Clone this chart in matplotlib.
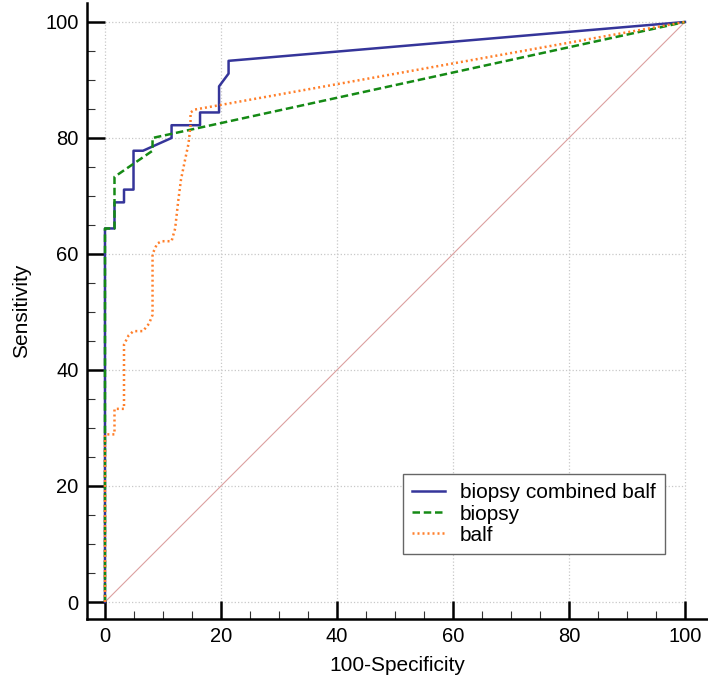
import matplotlib
matplotlib.use('Agg')
import matplotlib.pyplot as plt
from matplotlib.ticker import MultipleLocator

plt.rcParams['font.family'] = ['Liberation Sans', 'DejaVu Sans']

# ROC points (100-Specificity, Sensitivity)
combined_x = [0, 0, 1.64, 1.64, 3.28, 3.28, 4.92, 4.92, 6.56, 11.48, 11.48,
              16.39, 16.39, 19.67, 19.67, 21.31, 21.31, 100]
combined_y = [0, 64.4, 64.4, 68.9, 68.9, 71.1, 71.1, 77.8, 77.8, 80.0, 82.2,
              82.2, 84.4, 84.4, 88.9, 91.1, 93.3, 100]

biopsy_x = [0, 0, 1.64, 1.64, 8.2, 8.2, 100]
biopsy_y = [0, 64.4, 64.4, 73.3, 77.8, 80.0, 100]

balf_x = [0, 0, 1.64, 1.64, 3.28, 3.28, 4.1, 4.92, 6.56, 7.6, 8.2, 8.2, 9.0,
          9.8, 11.48, 12.1, 12.6, 13.1, 13.8, 14.4, 14.75, 14.75, 15.5, 100]
balf_y = [0, 28.9, 28.9, 33.3, 33.3, 44.4, 46.0, 46.7, 46.7, 48.0, 49.5, 60.0,
          61.8, 62.2, 62.2, 64.4, 68.9, 72.8, 76.2, 79.0, 82.2, 84.4, 84.9, 100]

ref_x = [0, 100]
ref_y = [0, 100]

ticks = [0, 20, 40, 60, 80, 100]

fig = plt.figure(figsize=(7.08, 6.82), dpi=100)
ax = fig.add_axes([87 / 708, 63 / 682, 620 / 708, 616 / 682])

# dotted grid inside the 0-100 box
ax.hlines(ticks, 0, 100, colors='#c8c8c8', linestyles=':', linewidth=0.9, zorder=0)
ax.vlines(ticks, 0, 100, colors='#c8c8c8', linestyles=':', linewidth=0.9, zorder=0)

ax.plot(ref_x, ref_y, color='#dca0a0', linewidth=0.8, zorder=1)
ax.plot(combined_x, combined_y, color='#35359a', linewidth=1.8,
        label='biopsy combined balf', zorder=2)
ax.plot(biopsy_x, biopsy_y, color='#158a15', linewidth=1.8, linestyle=(0, (3, 1.5)),
        label='biopsy', zorder=3)
ax.plot(balf_x, balf_y, color='#ff7f2a', linewidth=1.8, linestyle=(0, (0.8, 1.2)),
        label='balf', zorder=4)

ax.set_xlim(-3.1, 103.8)
ax.set_ylim(-2.93, 103.27)

for side in ['top', 'right']:
    ax.spines[side].set_visible(False)
for side in ['left', 'bottom']:
    ax.spines[side].set_linewidth(1.8)

ax.set_xticks(ticks)
ax.set_yticks(ticks)
ax.xaxis.set_minor_locator(MultipleLocator(5))
ax.yaxis.set_minor_locator(MultipleLocator(5))
ax.tick_params(which='major', direction='in', length=13, width=1.8, labelsize=14.5, pad=6)
ax.tick_params(which='minor', direction='in', length=6, width=0.8, color='#333333')

ax.set_xlabel('100-Specificity', fontsize=15, labelpad=7)
ax.set_ylabel('Sensitivity', fontsize=15, labelpad=10)

leg = ax.legend(loc='lower right', bbox_to_anchor=(665 / 708, (682 - 554) / 682),
                bbox_transform=fig.transFigure, borderaxespad=0, fontsize=15,
                fancybox=False, framealpha=1, edgecolor='#666666',
                handlelength=1.6, handletextpad=0.7,
                borderpad=0.45, labelspacing=0.1)
leg.get_frame().set_linewidth(1.0)

fig.savefig('out.png', dpi=100)
